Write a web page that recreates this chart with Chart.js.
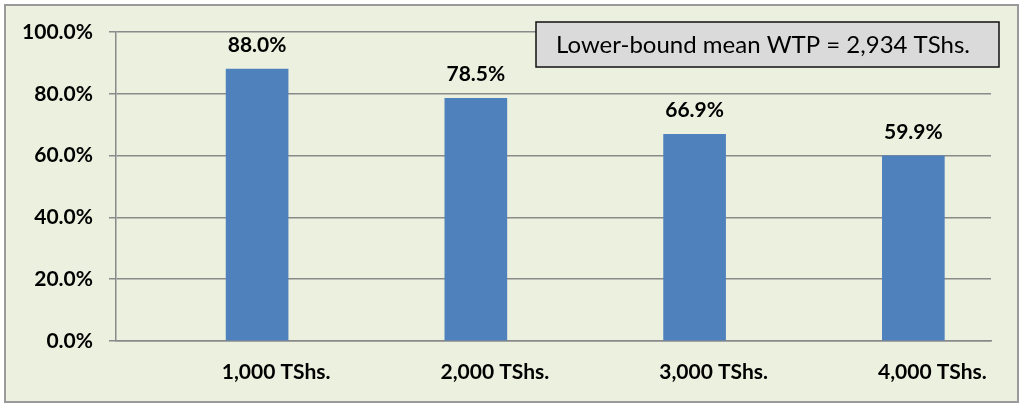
<!DOCTYPE html>
<html>
<head>
<meta charset="utf-8">
<script src="https://cdn.jsdelivr.net/npm/chart.js@4/dist/chart.umd.min.js"></script>
<style>
  html, body { margin: 0; padding: 0; background: #ffffff; }
  #wrap { width: 1024px; height: 407px; position: relative; }
</style>
</head>
<body>
<div id="wrap"><canvas id="c" width="1024" height="407"></canvas></div>
<script>
const categories = ['1,000 TShs.', '2,000 TShs.', '3,000 TShs.', '4,000 TShs.'];
const shares = [88.0, 78.5, 66.9, 59.9];
const yTicks = [0, 20, 40, 60, 80, 100];
const noteText = 'Lower-bound mean WTP = 2,934 TShs.';

const FONT = 'Lato, "Open Sans", sans-serif';

const frame = {
  id: 'frame',
  beforeDraw(chart) {
    const ctx = chart.ctx;
    ctx.save();
    ctx.fillStyle = '#ffffff';
    ctx.fillRect(0, 0, chart.width, chart.height);
    ctx.fillStyle = '#ECF0DF';
    ctx.fillRect(5, 5, 1013, 397);
    ctx.strokeStyle = '#9a9a9a';
    ctx.lineWidth = 2;
    ctx.strokeRect(5, 5, 1013, 397);
    ctx.restore();
  }
};

const labelsPlugin = {
  id: 'valueLabels',
  afterDatasetsDraw(chart) {
    const ctx = chart.ctx;
    const meta = chart.getDatasetMeta(0);
    ctx.save();
    ctx.font = 'bold 21px ' + FONT;
    ctx.fillStyle = '#000000';
    ctx.textAlign = 'center';
    ctx.textBaseline = 'middle';
    meta.data.forEach((bar, i) => {
      ctx.fillText(shares[i].toFixed(1) + '%', bar.x, bar.y - 24);
    });
    ctx.restore();
  },
  afterDraw(chart) {
    const ctx = chart.ctx;
    ctx.save();
    ctx.fillStyle = '#DADADA';
    ctx.fillRect(536, 22, 463, 45);
    ctx.strokeStyle = '#111111';
    ctx.lineWidth = 1.5;
    ctx.strokeRect(536, 22, 463, 45);
    ctx.font = '24px ' + FONT;
    ctx.fillStyle = '#000000';
    ctx.textAlign = 'center';
    ctx.textBaseline = 'middle';
    ctx.fillText(noteText, 763, 45);
    ctx.restore();
  }
};

new Chart(document.getElementById('c'), {
  type: 'bar',
  data: {
    datasets: [{
      data: shares.map((v, i) => ({ x: i, y: v })),
      backgroundColor: '#4F81BD',
      borderWidth: 0,
      barThickness: 62
    }]
  },
  options: {
    responsive: false,
    animation: false,
    devicePixelRatio: 1,
    layout: { padding: { left: 0, top: 32, right: 33, bottom: 0 } },
    plugins: { legend: { display: false }, tooltip: { enabled: false } },
    scales: {
      x: {
        type: 'linear',
        offset: false,
        min: -0.645,
        max: 3.355,
        afterBuildTicks(scale) { scale.ticks = categories.map((c, i) => ({ value: i })); },
        afterFit(scale) { scale.height = 66; },
        grid: { display: false, drawTicks: false, offset: false },
        border: { display: true, color: '#8a8a8a', width: 1.5 },
        ticks: {
          autoSkip: false,
          maxRotation: 0,
          padding: 19,
          labelOffset: 19,
          color: '#000000',
          font: { family: FONT, size: 21, weight: 'bold' },
          callback: (v) => categories[v]
        }
      },
      y: {
        min: 0,
        max: 100,
        afterBuildTicks(scale) { scale.ticks = yTicks.map(v => ({ value: v })); },
        afterFit(scale) { scale.width = 116; },
        grid: { color: '#8a8a8a', lineWidth: 1.5, tickLength: 7, drawTicks: true },
        border: { display: true, color: '#8a8a8a', width: 1.5 },
        ticks: {
          padding: 16,
          color: '#000000',
          font: { family: FONT, size: 21, weight: 'bold' },
          callback: (v) => v.toFixed(1) + '%'
        }
      }
    }
  },
  plugins: [frame, labelsPlugin]
});
</script>
</body>
</html>
